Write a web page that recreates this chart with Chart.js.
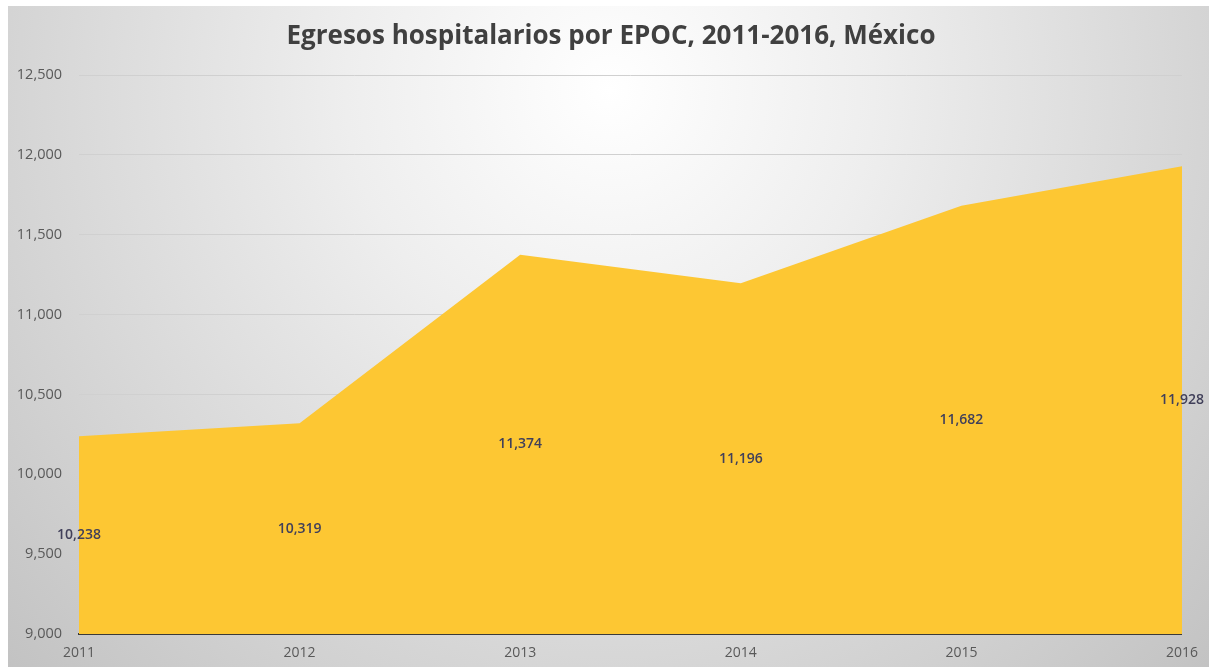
<!DOCTYPE html>
<html><head><meta charset="utf-8">
<script src="https://cdn.jsdelivr.net/npm/chart.js@4"></script>
<style>html,body{margin:0;padding:0;background:#fff}canvas{display:block}</style>
</head><body>
<canvas id="c" width="1209" height="667"></canvas>
<script>
const years = ['2011','2012','2013','2014','2015','2016'];
const egresos = [10238, 10319, 11374, 11196, 11682, 11928];
const yMin = 9000, yMax = 12500, yStep = 500;
const titleText = 'Egresos hospitalarios por EPOC, 2011-2016, México';

const bgPlugin = {
  id: 'bg',
  beforeDraw(chart) {
    const ctx = chart.ctx, w = chart.width, h = chart.height;
    ctx.save();
    ctx.fillStyle = '#ffffff';
    ctx.fillRect(0, 0, w, h);
    const g = ctx.createRadialGradient(610, 90, 0, 610, 90, 880);
    g.addColorStop(0, '#ffffff');
    g.addColorStop(0.3, '#eeeeee');
    g.addColorStop(1, '#bfbfbf');
    ctx.fillStyle = g;
    ctx.fillRect(8, 6, w - 8, h - 6);
    ctx.font = 'bold 26px "Open Sans", "Liberation Sans", sans-serif';
    ctx.fillStyle = '#404040';
    ctx.textAlign = 'center';
    ctx.textBaseline = 'middle';
    ctx.fillText(titleText, 611, 37);
    ctx.restore();
  }
};
const labelPlugin = {
  id: 'midLabels',
  afterDatasetsDraw(chart) {
    const ctx = chart.ctx;
    const meta = chart.getDatasetMeta(0);
    const ys = chart.scales.y;
    ctx.save();
    ctx.font = '600 14px "Open Sans", "Liberation Sans", sans-serif';
    ctx.fillStyle = '#41405a';
    ctx.textAlign = 'center';
    ctx.textBaseline = 'middle';
    meta.data.forEach((pt, i) => {
      const v = egresos[i];
      const y = ys.getPixelForValue((v + yMin) / 2);
      ctx.fillText(v.toLocaleString('en-US'), pt.x, y);
    });
    ctx.restore();
  }
};

new Chart(document.getElementById('c'), {
  type: 'line',
  data: {
    labels: years,
    datasets: [{
      data: egresos,
      fill: 'origin',
      backgroundColor: '#FDC733',
      borderWidth: 0,
      borderColor: 'rgba(0,0,0,0)',
      pointRadius: 0,
      tension: 0
    }]
  },
  options: {
    responsive: false,
    animation: false,
    layout: { padding: { left: 0, right: 21, top: 75, bottom: 0 } },
    plugins: {
      legend: { display: false },
      tooltip: { enabled: false },
      title: { display: false }
    },
    scales: {
      x: {
        type: 'category',
        offset: false,
        z: 1,
        grid: { display: false, drawTicks: false },
        border: { display: true, color: '#3a3a3a', width: 2 },
        ticks: { color: '#595959', font: { family: '"Open Sans", "Liberation Sans", sans-serif', size: 14 }, padding: 11, maxRotation: 0, autoSkip: false },
        afterFit(s) { s.height = 33; }
      },
      y: {
        min: yMin, max: yMax,
        grid: { color: '#d0d0d0', lineWidth: 1, drawTicks: false },
        border: { display: false },
        ticks: {
          stepSize: yStep,
          color: '#595959',
          font: { family: '"Open Sans", "Liberation Sans", sans-serif', size: 14.5 },
          padding: 17,
          callback: v => v.toLocaleString('en-US')
        },
        afterFit(s) { s.width = 79; }
      }
    }
  },
  plugins: [bgPlugin, labelPlugin]
});
</script>
</body></html>
